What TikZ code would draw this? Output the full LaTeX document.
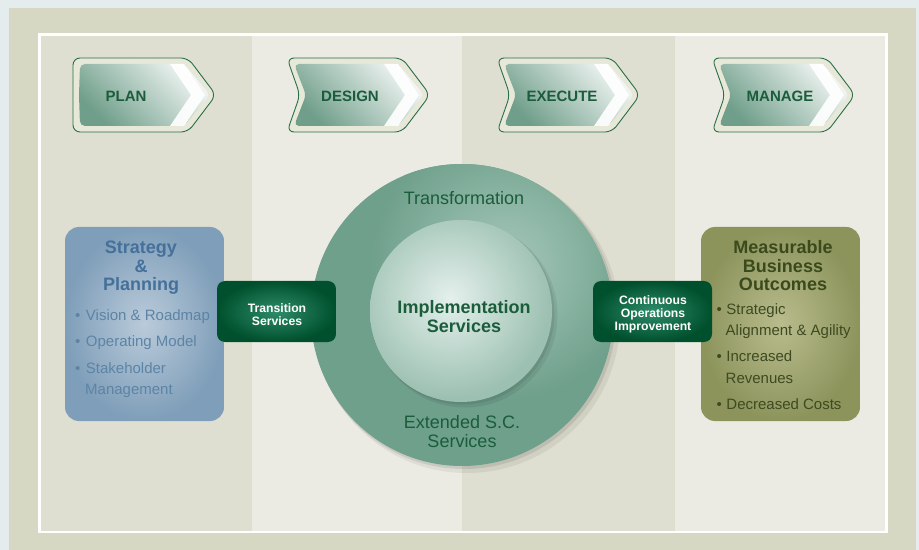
\documentclass[tikz,border=0pt]{standalone}
\usepackage{fontspec}
\setmainfont{Liberation Sans}

\definecolor{outerband}{HTML}{E5ECEE}
\definecolor{khaki}{HTML}{D6D8C4}
\definecolor{coldark}{HTML}{DEDFD0}
\definecolor{collight}{HTML}{EBEBE3}
\definecolor{arrowline}{HTML}{2A6E4E}
\definecolor{cream}{HTML}{E8E8D8}
\definecolor{arrowdark}{HTML}{6F9E8A}
\definecolor{arrowlight}{HTML}{F2F6F4}
\definecolor{labelgreen}{HTML}{1B5C3B}
\definecolor{blueout}{HTML}{7F9EB9}
\definecolor{bluein}{HTML}{BACBDA}
\definecolor{bluetitle}{HTML}{44709A}
\definecolor{bluetext}{HTML}{5C84A6}
\definecolor{oliveout}{HTML}{8C945C}
\definecolor{olivein}{HTML}{B9BC8D}
\definecolor{olivetitle}{HTML}{3A4A1C}
\definecolor{olivetext}{HTML}{3D4A22}
\definecolor{greenout}{HTML}{00502D}
\definecolor{greenin}{HTML}{2E8C69}
\definecolor{ringbase}{HTML}{6FA08C}
\definecolor{ringlight}{HTML}{A6C8BA}
\definecolor{corein}{HTML}{E4F0EC}
\definecolor{coreout}{HTML}{9CC0B1}

\tikzset{
  stagelabel/.style={font=\fontsize{15bp}{18bp}\selectfont\bfseries, text=labelgreen, inner sep=0pt, anchor=base},
  ringtext/.style={font=\fontsize{18bp}{19bp}\selectfont, text=labelgreen, inner sep=0pt, anchor=base, align=center},
  coretext/.style={font=\fontsize{18bp}{19.3bp}\selectfont\bfseries, text=labelgreen, inner sep=0pt, anchor=base, align=center},
  boxtext/.style={font=\fontsize{12.2bp}{13bp}\selectfont\bfseries, text=white, inner sep=0pt, anchor=base, align=center},
  bluetitle/.style={font=\fontsize{18bp}{18.5bp}\selectfont\bfseries, text=bluetitle, inner sep=0pt, anchor=base, align=center},
  bluebullet/.style={font=\fontsize{15bp}{18bp}\selectfont, text=bluetext, inner sep=0pt, anchor=base west},
  olivetitle/.style={font=\fontsize{18bp}{18.5bp}\selectfont\bfseries, text=olivetitle, inner sep=0pt, anchor=base, align=center},
  olivebullet/.style={font=\fontsize{15bp}{18bp}\selectfont, text=olivetext, inner sep=0pt, anchor=base west}
}

% stage arrow: left x, notch depth, label x, node name, label
\newcommand{\stagearrow}[5]{%
  \draw[arrowline, line width=0.9bp, fill=cream, rounded corners=7bp] ({#1+60},58) -- ({#1+115},58) -- ({#1+143},95) -- ({#1+115},132) -- (#1,132) -- ({#1+#2},95) -- (#1,58) -- cycle;
  \shade[top color=arrowlight, bottom color=arrowdark, shading angle=-45, rounded corners=5bp] ({#1+60},64) -- ({#1+111},64) -- ({#1+137},95) -- ({#1+111},126) -- ({#1+7},126) -- ({#1+6+#2},95) -- ({#1+7},64) -- cycle;
  \fill[white, opacity=.92] ({#1+97},64) -- ({#1+111},64) -- ({#1+132},95) -- ({#1+111},126) -- ({#1+97},126) -- ({#1+118},95) -- cycle;
  \node[stagelabel] (#4) at (#3,102) {#5};
}

\begin{document}
\begin{tikzpicture}[x=1bp, y=-1bp]
\useasboundingbox (0,0) rectangle (919,550);

% background and columns
\fill[outerband] (0,0) rectangle (919,550);
\fill[khaki] (9,8) rectangle (916,550);
\fill[coldark] (38,34) rectangle (252,532);
\fill[collight] (252,34) rectangle (462,532);
\fill[coldark] (462,34) rectangle (675,532);
\fill[collight] (675,34) rectangle (888,532);
\draw[white, line width=2.6bp] (39.3,34.7) rectangle (886.7,531.8);

\stagearrow{73}{0}{126}{plan}{PLAN}
\stagearrow{287}{13}{350}{design}{DESIGN}
\stagearrow{497}{13}{562}{execute}{EXECUTE}
\stagearrow{712}{13}{780}{manage}{MANAGE}

% rings
\fill[black, opacity=.06] (467,320) circle (153);
\fill[black, opacity=.09] (464,317) circle (152);
\fill[ringbase] (462,315) circle (151);
\begin{scope}
\clip (462,315) circle (151);
\shade[inner color=ringlight, outer color=ringbase] (505,265) circle (135);
\end{scope}
\fill[black, opacity=.07] (465,315) circle (92.5);
\fill[black, opacity=.08] (463,313) circle (91.5);
\fill[coreout] (461,311) circle (91);
\begin{scope}
\clip (461,311) circle (91);
\shade[inner color=corein, outer color=coreout] (450,298) circle (100);
\end{scope}

\node[ringtext] (transformation) at (464,205) {Transformation};
\node[coretext] (implementation) at (464,333) {Implementation\\Services};
\node[ringtext] (extended) at (462,447) {Extended S.C.\\Services};

% left box
\shade[rounded corners=14bp, inner color=bluein, outer color=blueout] (65,227) rectangle (224,421);
\node[bluetitle] (strategy) at (141,291) {Strategy\\\&\\Planning};
\node[bluebullet] (vision) at (75,321) {•\hspace{5.5bp}Vision \& Roadmap};
\node[bluebullet] (operating) at (75,347) {•\hspace{5.5bp}Operating Model};
\node[bluebullet] (stakeholder) at (75,373) {•\hspace{5.5bp}Stakeholder};
\node[bluebullet] (management) at (85,394) {Management};

% right box
\shade[rounded corners=14bp, inner color=olivein, outer color=oliveout] (701,227) rectangle (860,421);
\node[olivetitle] (measurable) at (783,291) {Measurable\\Business\\Outcomes};
\node[olivebullet] (strategic) at (716.5,315) {•\hspace{4.5bp}Strategic};
\node[olivebullet] (alignment) at (725.5,336) {Alignment \& Agility};
\node[olivebullet] (increased) at (716.5,362) {•\hspace{4.5bp}Increased};
\node[olivebullet] (revenues) at (725.5,383) {Revenues};
\node[olivebullet] (decreased) at (716.5,409) {•\hspace{4.5bp}Decreased Costs};

% bridge boxes
\shade[rounded corners=8bp, inner color=greenin, outer color=greenout] (217,281) rectangle (336,342);
\node[boxtext] (transition) at (277,326) {Transition\\Services};
\shade[rounded corners=8bp, inner color=greenin, outer color=greenout] (593,281) rectangle (712,342);
\node[boxtext] (continuous) at (653,331) {Continuous\\Operations\\Improvement};
\end{tikzpicture}
\end{document}
